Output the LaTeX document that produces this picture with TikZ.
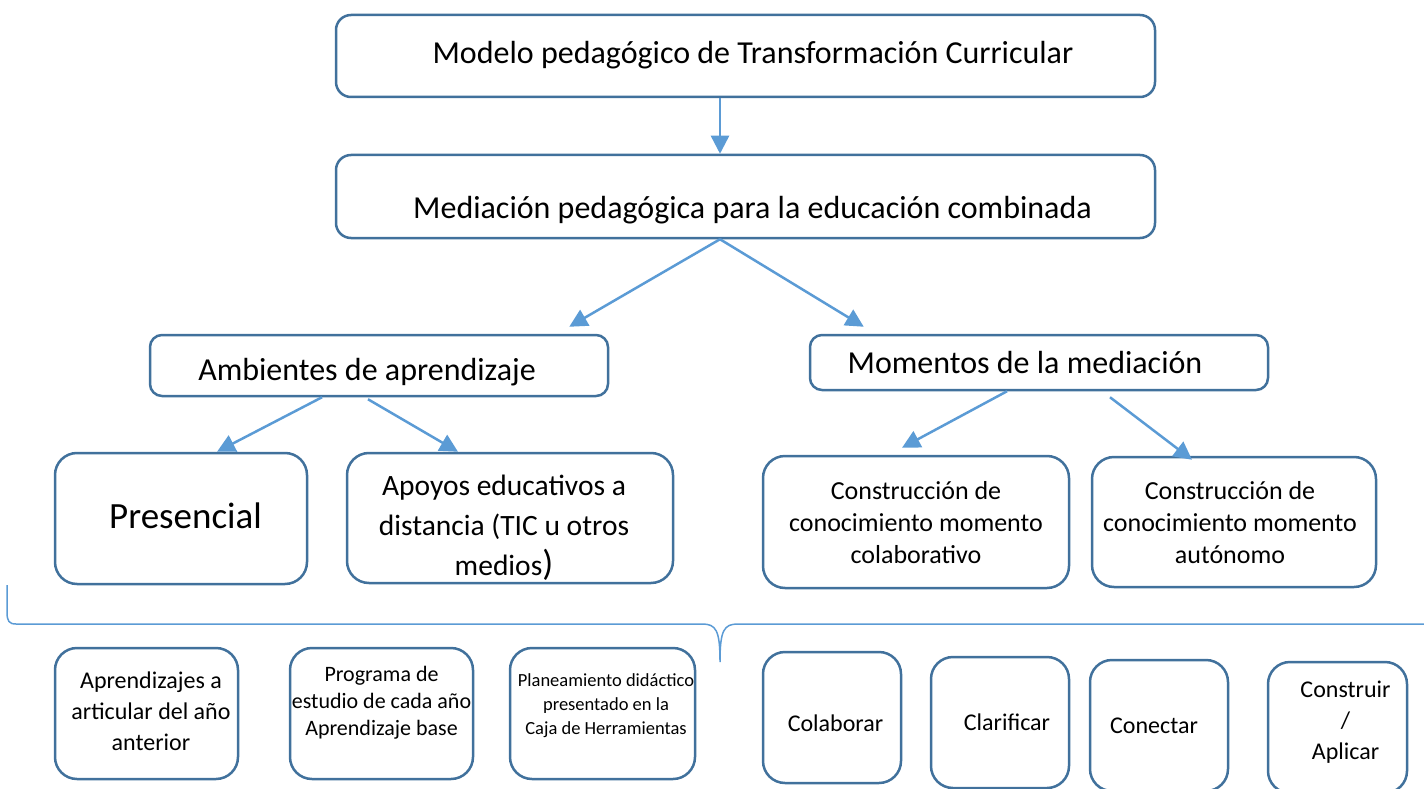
\documentclass[tikz,border=0pt]{standalone}
\usepackage{fontspec}
\setmainfont{Carlito}
\usepackage{xcolor}
\usetikzlibrary{arrows.meta,positioning}
\definecolor{borde}{HTML}{41719C}
\definecolor{azulflecha}{HTML}{5B9BD5}
\newcommand{\tam}[2]{\fontsize{#1}{#2}\selectfont}
% corre el texto dentro de la caja sin mover la caja
\newcommand{\mover}[3]{\raisebox{#2}[\height][\depth]{\hspace*{#1}\begin{tabular}{@{}c@{}}#3\end{tabular}\hspace*{-#1}}}

\begin{document}
\begin{tikzpicture}[
      x=1pt, y=-1pt,
      caja/.style={
         rectangle,
         draw=borde,
         line width=2.5pt,
         rounded corners=15pt,
         align=center,
         inner sep=0pt},
      cajagrande/.style={caja, rounded corners=22pt, minimum height=131pt},
      cajachica/.style={caja, rounded corners=22pt, minimum width=183pt, minimum height=131pt, font=\tam{24}{31}},
      flecha/.style={-{Triangle[length=18pt,width=18pt]}, draw=azulflecha, line width=2.5pt},
      llave/.style={draw=azulflecha, line width=1.5pt}
      ]
\useasboundingbox (0,0) rectangle (1424,789);

% niveles superiores
\node[caja, minimum width=819pt, minimum height=82pt, font=\tam{32}{38}] (modelo) at (745.5,56)
      {\mover{7.5pt}{0pt}{Modelo pedagógico de Transformación Curricular}};
\node[caja, minimum width=819pt, minimum height=83pt, font=\tam{32}{38}] (mediacion) at (745.5,196.5)
      {\mover{7pt}{-14pt}{Mediación pedagógica para la educación combinada}};

\node[caja, rounded corners=12pt, minimum width=458pt, minimum height=61pt, font=\tam{32}{38}] (ambientes) at (379,365.5)
      {\mover{-12pt}{-7pt}{Ambientes de aprendizaje}};
\node[caja, rounded corners=12pt, minimum width=458pt, minimum height=55pt, font=\tam{32}{38}] (momentos) at (1039,362.5)
      {\mover{-14pt}{-3pt}{Momentos de la mediación}};

% tercer nivel
\node[cajagrande, minimum width=252pt, font=\tam{37}{44}] (presencial) at (181,518.5)
      {\mover{4.5pt}{-1pt}{Presencial}};
\node[cajagrande, minimum width=326pt, minimum height=130pt, font=\tam{29.5}{40}] (apoyos) at (510,518)
      {\mover{-6pt}{-9pt}{Apoyos educativos a\\distancia (TIC u otros\\medios{\tam{36}{40})}}};
\node[cajagrande, minimum width=306pt, minimum height=132pt, font=\tam{26}{32}] (colaborativo) at (916,522)
      {\mover{0pt}{-3.5pt}{Construcción de\\conocimiento momento\\colaborativo}};
\node[cajagrande, minimum width=284pt, minimum height=130pt, font=\tam{26}{32}] (autonomo) at (1234,522)
      {\mover{-4pt}{-3pt}{Construcción de\\conocimiento momento\\autónomo}};

% llave
\draw[llave] (7,585) -- (7,612) .. controls (7,621) and (9,624) .. (16,624)
      -- (702,624) .. controls (716,624) and (720,630) .. (720,662)
      .. controls (720,630) and (724,624) .. (738,624) -- (1424,624);

% cuarto nivel
\node[cajachica] (aprendizajes) at (146.5,713.5)
      {\mover{4.5pt}{0pt}{Aprendizajes a\\articular del año\\anterior}};
\node[cajachica, font=\tam{22}{27}] (programa) at (381.5,713.5)
      {\mover{0pt}{10pt}{Programa de\\estudio de cada año\\Aprendizaje base}};
\node[cajachica, minimum width=185pt, font=\tam{18.5}{24}] (planeamiento) at (602.5,713.5)
      {\mover{3.5pt}{8pt}{Planeamiento didáctico\\presentado en la\\Caja de Herramientas}};
\node[cajachica, minimum width=138pt] (colaborar) at (832,717.5) {\mover{3.5pt}{-8pt}{Colaborar}};
\node[cajachica, minimum width=138pt] (clarificar) at (1000,722.5) {\mover{7pt}{-2pt}{Clarificar}};
\node[cajachica, minimum width=138pt] (conectar) at (1159,725.5) {\mover{-5pt}{-2pt}{Conectar}};
\node[cajachica, minimum width=139pt] (construir) at (1337.5,727.5) {\mover{8pt}{5pt}{Construir\\/\\Aplicar}};

% flechas
\draw[flecha] ([xshift=-25.5]modelo.south) -- ([xshift=-25.5]mediacion.north);
\draw[flecha] ([xshift=-25.5]mediacion.south) -- ([shift={(-40,-7)}]ambientes.north east);
\draw[flecha] ([xshift=-25.5]mediacion.south) -- ([shift={(55,-7)}]momentos.north west);
\draw[flecha] ([xshift=-57]ambientes.south) -- ([xshift=36]presencial.north);
\draw[flecha] ([shift={(-11,2)}]ambientes.south) -- ([xshift=-52]apoyos.north);
\draw[flecha] ([xshift=-32]momentos.south) -- ([shift={(-14,-7)}]colaborativo.north);
\draw[flecha] ([shift={(71,6)}]momentos.south) -- ([shift={(-42,4)}]autonomo.north);

\end{tikzpicture}
\end{document}
